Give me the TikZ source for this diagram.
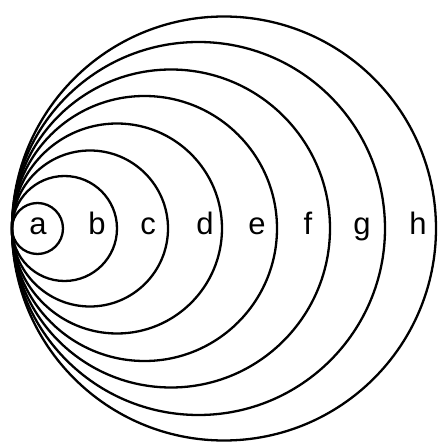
\documentclass[tikz,border=0pt]{standalone}
\usepackage{fontspec}
\setmainfont{Liberation Sans}
\begin{document}
\begin{tikzpicture}[x=1pt,y=1pt,
  ring/.style={draw=black,line width=2.3pt},
  lab/.style={anchor=base,inner sep=0pt,font=\fontsize{31}{31}\selectfont}]
\useasboundingbox (0,0) rectangle (440,445);
\coordinate (T) at (12,216.5);
\foreach \d/\n in {51/a,105/b,156/c,210/d,265/e,318/f,373/g,424/h}{
  \draw[ring] (T) ++(\d/2,0) coordinate (c\n) circle[radius=\d/2];
}
\node[lab] (la) at (38,210) {a};
\node[lab] (lb) at (97,210) {b};
\node[lab] (lc) at (148,210) {c};
\node[lab] (ld) at (205,210) {d};
\node[lab] (le) at (257,210) {e};
\node[lab] (lf) at (308,210) {f};
\node[lab] (lg) at (362,210) {g};
\node[lab] (lh) at (418,210) {h};
\end{tikzpicture}
\end{document}
